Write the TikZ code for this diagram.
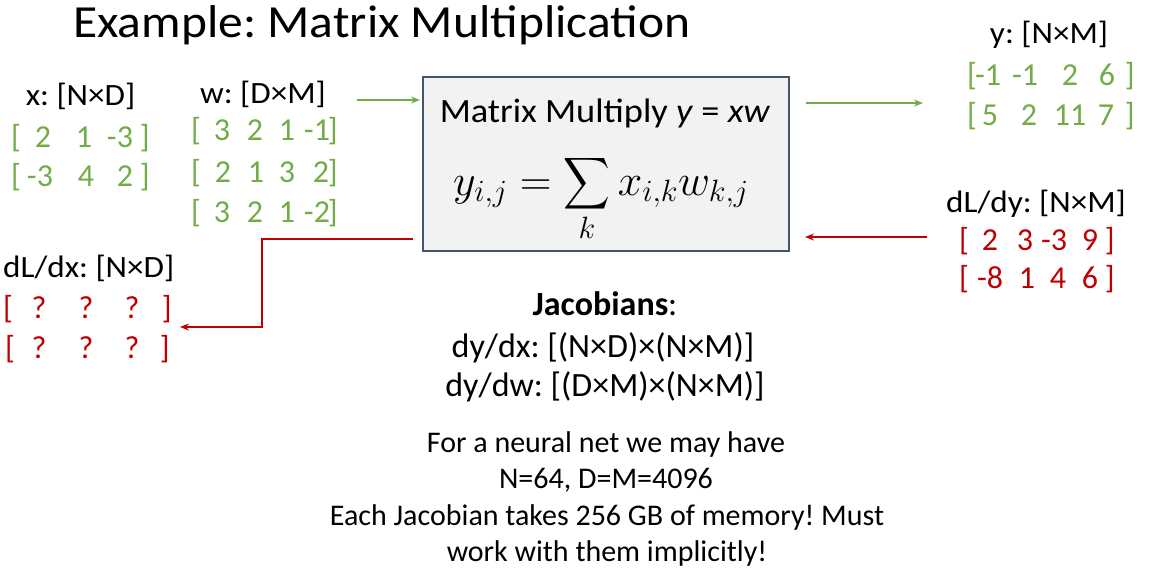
\RequirePackage{fix-cm}
\documentclass[tikz,border=0pt]{standalone}
\usepackage{exscale}
\usepackage{graphicx}
\usepackage{fontspec}
\setmainfont{Carlito}
\newfontfamily\titlefont{Carlito}[FakeStretch=1.076]
\newfontfamily\lblfont{Carlito}[FakeStretch=1.07]
\newfontfamily\boxfont{Carlito}[FakeStretch=1.07]
\usetikzlibrary{arrows.meta}
\definecolor{mgreen}{HTML}{70AD47}
\definecolor{mred}{HTML}{C00000}
\definecolor{boxfill}{HTML}{F2F2F2}
\definecolor{boxline}{HTML}{44546A}
\newcommand{\bigsumop}{\mathop{\vcenter{\hbox{\scalebox{1.3}[1.45]{$\displaystyle\sum$}}}}\limits}
\frenchspacing
\begin{document}
\begin{tikzpicture}[x=1pt,y=-1pt,
  txt/.style={inner sep=0pt, anchor=base},
  lbl/.style={txt, font=\lblfont\fontsize{31}{36}\selectfont},
  gcell/.style={txt, text=mgreen, font=\fontsize{32}{36}\selectfont},
  rcell/.style={txt, text=mred, font=\fontsize{32}{36}\selectfont},
  jac/.style={txt, font=\fontsize{34}{40}\selectfont},
  note/.style={txt, font=\fontsize{30}{36}\selectfont},
  garrow/.style={draw=mgreen, line width=2pt, -{Stealth[length=9pt,width=7pt]}},
  rarrow/.style={draw=mred, line width=2pt, -{Stealth[length=9pt,width=7pt]}},
]
\useasboundingbox (0,0) rectangle (1152,574);

\node[txt, anchor=base west, font=\titlefont\fontsize{46}{50}\selectfont] (title) at (73,37) {Example: Matrix Multiplication};

% x
\node[lbl] (xl) at (80.5,105) {x: [N×D]};
\node[gcell, anchor=base west] (xaL) at (11,147) {[};
\node[gcell, anchor=base east] (xaR) at (150,147) {]};
\foreach \v/\cx [count=\i] in {2/43,1/84,-3/120} \node[gcell] (xa\i) at (\cx,147) {\v};
\node[gcell, anchor=base west] (xbL) at (11,186) {[};
\node[gcell, anchor=base east] (xbR) at (150,186) {]};
\foreach \v/\cx [count=\i] in {-3/40,4/86,2/125} \node[gcell] (xb\i) at (\cx,186) {\v};

% w
\node[lbl] (wl) at (263,103) {w: [D×M]};
\foreach \r/\yy in {a/140,b/182,c/222} {
  \node[gcell, anchor=base west] (w\r L) at (191,\yy) {[};
  \node[gcell, anchor=base east] (w\r R) at (338,\yy) {]};
}
\foreach \v/\cx [count=\i] in {3/222,2/255,1/287,-1/317} \node[gcell] (wa\i) at (\cx,140) {\v};
\foreach \v/\cx [count=\i] in {2/223,1/256,3/287,2/321} \node[gcell] (wb\i) at (\cx,182) {\v};
\foreach \v/\cx [count=\i] in {3/222,2/255,1/287,-2/317} \node[gcell] (wc\i) at (\cx,222) {\v};

% box
\node[draw=boxline, fill=boxfill, line width=1.5pt, minimum width=366pt, minimum height=174pt, inner sep=0pt] (box) at (606,164) {};
\node[txt, font=\boxfont\fontsize{34}{38}\selectfont] (boxt) at (605,122) {Matrix Multiply \textit{y} = \textit{xw}};
\node[txt, font=\fontsize{44}{50}\selectfont] (formula) at (601,195) {$\displaystyle y_{i,j} = \bigsumop_{k} x_{i,k}w_{k,j}$};

% y
\node[lbl] (yl) at (1049,43) {y: [N×M]};
\foreach \r/\yy in {a/85,b/125} {
  \node[gcell, anchor=base west] (y\r L) at (967,\yy) {[};
  \node[gcell, anchor=base east] (y\r R) at (1135,\yy) {]};
}
\foreach \v/\cx [count=\i] in {-1/988,-1/1025,2/1070,6/1107} \node[gcell] (ya\i) at (\cx,85) {\v};
\foreach \v/\cx [count=\i] in {5/990,2/1029,11/1070,7/1106} \node[gcell] (yb\i) at (\cx,125) {\v};

% dL/dy
\node[lbl] (dyl) at (1036,212) {dL/dy: [N×M]};
\foreach \r/\yy in {a/250,b/288} {
  \node[rcell, anchor=base west] (dy\r L) at (959,\yy) {[};
  \node[rcell, anchor=base east] (dy\r R) at (1115,\yy) {]};
}
\foreach \v/\cx [count=\i] in {2/990,3/1025,-3/1054,9/1090} \node[rcell] (dya\i) at (\cx,250) {\v};
\foreach \v/\cx [count=\i] in {-8/990,1/1027,4/1058,6/1090} \node[rcell] (dyb\i) at (\cx,288) {\v};

% dL/dx
\node[lbl, anchor=base west] (dxl) at (3,277) {dL/dx: [N×D]};
\node[rcell, anchor=base west] (dxaL) at (3,318) {[};
\node[rcell, anchor=base east] (dxaR) at (172,318) {]};
\node[rcell, anchor=base west] (dxbL) at (5,358) {[};
\node[rcell, anchor=base east] (dxbR) at (170,358) {]};
\foreach \cx [count=\i] in {39,86,132} {
  \node[rcell] (dxa\i) at (\cx,318) {?};
  \node[rcell] (dxb\i) at (\cx,358) {?};
}

% arrows
\coordinate (g1s) at (357,100);
\coordinate (g1e) at (420,100);
\draw[garrow] (g1s) -- (g1e);
\coordinate (g2s) at (806,103);
\coordinate (g2e) at (923,103);
\draw[garrow] (g2s) -- (g2e);
\coordinate (r1s) at (927,237);
\coordinate (r1e) at (805,237);
\draw[rarrow] (r1s) -- (r1e);
\coordinate (r2s) at (413,239);
\coordinate (r2k) at (262,327);
\coordinate (r2e) at (180,327);
\draw[rarrow] (r2s) -| (r2k) -- (r2e);

% Jacobians
\node[jac] (j1) at (605,315) {\textbf{Jacobians}:};
\node[jac] (j2) at (603,357) {dy/dx: [(N×D)×(N×M)]};
\node[jac] (j3) at (605,396) {dy/dw: [(D×M)×(N×M)]};
\node[note] (n1) at (606,452) {For a neural net we may have};
\node[note] (n2) at (606,488) {N=64, D=M=4096};
\node[note] (n3) at (607,525) {Each Jacobian takes 256 GB of memory! Must};
\node[note] (n4) at (607,561) {work with them implicitly!};
\end{tikzpicture}
\end{document}
